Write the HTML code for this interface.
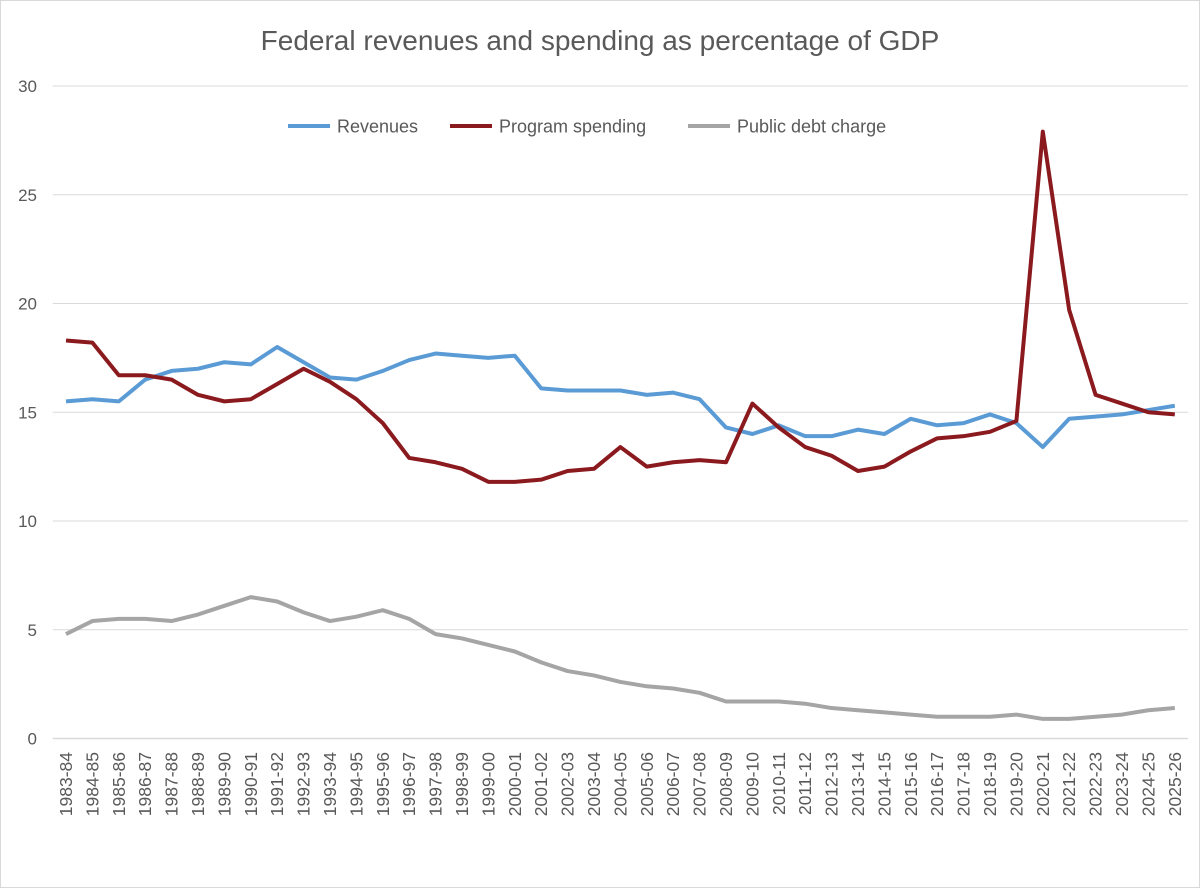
<!DOCTYPE html>
<html><head><meta charset="utf-8"><style>
body{margin:0;background:#fff}
svg text{font-family:"Liberation Sans",sans-serif;fill:#595959}
</style></head><body>
<svg width="1200" height="888" xmlns="http://www.w3.org/2000/svg">
<rect x="0.5" y="0.5" width="1199" height="887" fill="#fff" stroke="#d9d9d9"/>
<text x="600" y="50" font-size="28" text-anchor="middle">Federal revenues and spending as percentage of GDP</text>
<g id="grid"></g><g id="axes"></g><g id="series"></g>
<g>
<line x1="288" y1="126" x2="330" y2="126" stroke="#5b9bd5" stroke-width="4"/>
<text x="337" y="132.5" font-size="18">Revenues</text>
<line x1="450" y1="126" x2="492" y2="126" stroke="#8b1a1f" stroke-width="4"/>
<text x="499" y="132.5" font-size="18">Program spending</text>
<line x1="688" y1="126" x2="730" y2="126" stroke="#a5a5a5" stroke-width="4"/>
<text x="737" y="132.5" font-size="18">Public debt charge</text>
</g>
</svg>
<script>
const categories=[];for(let y=1983;y<=2025;y++){categories.push(y+'-'+String((y+1)%100).padStart(2,'0'));}
const revenues=[15.5,15.6,15.5,16.5,16.9,17.0,17.3,17.2,18.0,17.3,16.6,16.5,16.9,17.4,17.7,17.6,17.5,17.6,16.1,16.0,16.0,16.0,15.8,15.9,15.6,14.3,14.0,14.4,13.9,13.9,14.2,14.0,14.7,14.4,14.5,14.9,14.5,13.4,14.7,14.8,14.9,15.1,15.3];
const programSpending=[18.3,18.2,16.7,16.7,16.5,15.8,15.5,15.6,16.3,17.0,16.4,15.6,14.5,12.9,12.7,12.4,11.8,11.8,11.9,12.3,12.4,13.4,12.5,12.7,12.8,12.7,15.4,14.3,13.4,13.0,12.3,12.5,13.2,13.8,13.9,14.1,14.6,27.9,19.7,15.8,15.4,15.0,14.9];
const debtCharge=[4.8,5.4,5.5,5.5,5.4,5.7,6.1,6.5,6.3,5.8,5.4,5.6,5.9,5.5,4.8,4.6,4.3,4.0,3.5,3.1,2.9,2.6,2.4,2.3,2.1,1.7,1.7,1.7,1.6,1.4,1.3,1.2,1.1,1.0,1.0,1.0,1.1,0.9,0.9,1.0,1.1,1.3,1.4];
const yTicks=[0,5,10,15,20,25,30];
const NS='http://www.w3.org/2000/svg';
const L=52.8,R=1188,T=86,B=738.5,YMAX=30;
const bw=(R-L)/categories.length;
const xS=i=>L+bw*(i+0.5);
const yS=v=>B-(v/YMAX)*(B-T);
function mk(tag,attrs,parent){const e=document.createElementNS(NS,tag);for(const k in attrs)e.setAttribute(k,attrs[k]);parent.appendChild(e);return e;}
const grid=document.getElementById('grid'),axes=document.getElementById('axes'),ser=document.getElementById('series');
yTicks.forEach(t=>{
  if(t>0){const g=mk('line',{x1:L,x2:R,y1:yS(t),y2:yS(t),stroke:'#d9d9d9','stroke-width':1},grid);
  
  }
  const tx=mk('text',{x:37,y:yS(t)+6,'font-size':17,'text-anchor':'end'},axes);tx.textContent=t;
  
  
});
const ax=mk('line',{x1:L,x2:R,y1:B,y2:B,stroke:'#d9d9d9','stroke-width':1.5},axes);


categories.forEach((c,i)=>{
  const x=xS(i)+6;const tx=mk('text',{x:x,y:752,'font-size':17.5,'text-anchor':'end',transform:'rotate(-90 '+x+' 752)'},axes);tx.textContent=c;
  
  
});
[[debtCharge,'#a5a5a5','debt-charge-line'],[revenues,'#5b9bd5','revenues-line'],[programSpending,'#8b1a1f','program-spending-line']].forEach(([d,c,n])=>{
  const p=mk('polyline',{points:d.map((v,i)=>xS(i)+','+yS(v)).join(' '),fill:'none',stroke:c,'stroke-width':4,'stroke-linejoin':'round'},ser);
  
  
});
</script>
</body></html>
